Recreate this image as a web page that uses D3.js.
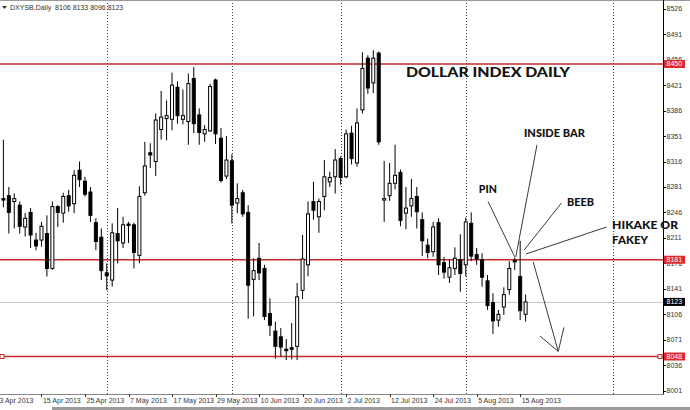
<!DOCTYPE html>
<html><head><meta charset="utf-8">
<script src="https://cdn.jsdelivr.net/npm/d3@7/dist/d3.min.js"></script>
<style>html,body{margin:0;padding:0;background:#fff}svg{display:block}</style>
</head><body><svg id="chart" width="690" height="410"></svg>
<script>
// ---------- data ----------
const dates = [
"2013-04-04","2013-04-05","2013-04-08","2013-04-09","2013-04-10","2013-04-11","2013-04-12","2013-04-15","2013-04-16","2013-04-17",
"2013-04-18","2013-04-19","2013-04-22","2013-04-23","2013-04-24","2013-04-25","2013-04-26","2013-04-29","2013-04-30","2013-05-01",
"2013-05-02","2013-05-03","2013-05-06","2013-05-07","2013-05-08","2013-05-09","2013-05-10","2013-05-13","2013-05-14","2013-05-15",
"2013-05-16","2013-05-17","2013-05-20","2013-05-21","2013-05-22","2013-05-23","2013-05-24","2013-05-27","2013-05-28","2013-05-29",
"2013-05-30","2013-05-31","2013-06-03","2013-06-04","2013-06-05","2013-06-06","2013-06-07","2013-06-10","2013-06-11","2013-06-12",
"2013-06-13","2013-06-14","2013-06-17","2013-06-18","2013-06-19","2013-06-20","2013-06-21","2013-06-24","2013-06-25","2013-06-26",
"2013-06-27","2013-06-28","2013-07-01","2013-07-02","2013-07-03","2013-07-04","2013-07-05","2013-07-08","2013-07-09","2013-07-10",
"2013-07-11","2013-07-12","2013-07-15","2013-07-16","2013-07-17","2013-07-18","2013-07-19","2013-07-22","2013-07-23","2013-07-24",
"2013-07-25","2013-07-26","2013-07-29","2013-07-30","2013-07-31","2013-08-01","2013-08-02","2013-08-05","2013-08-06","2013-08-07",
"2013-08-08","2013-08-09","2013-08-12","2013-08-13","2013-08-14","2013-08-15","2013-08-16"];

const open = [
8265,8269,8261,8256,8226,8246,8208,8208,8217,8169,
8254,8245,8269,8258,8304,8289,8274,8232,8212,8163,
8153,8217,8204,8230,8229,8187,8273,8328,8316,8360,
8375,8374,8418,8374,8371,8430,8380,8354,8358,8428,
8348,8296,8317,8259,8273,8246,8154,8183,8169,8107,
8083,8075,8058,8060,8062,8139,8174,8261,8240,8268,
8288,8295,8320,8295,8355,8314,8387,8458,8424,8465,
8263,8269,8286,8301,8245,8255,8268,8236,8201,8192,
8232,8177,8157,8169,8181,8174,8231,8188,8181,8152,
8122,8098,8116,8140,8180,8158,8106];
const high = [
8346,8281,8272,8261,8245,8252,8218,8233,8242,8261,
8256,8273,8277,8304,8316,8295,8281,8238,8224,8176,
8231,8252,8240,8233,8232,8282,8343,8341,8382,8413,
8400,8438,8426,8415,8437,8446,8389,8366,8423,8430,
8362,8351,8326,8286,8277,8256,8183,8204,8174,8128,
8096,8087,8072,8094,8149,8215,8261,8288,8265,8318,
8302,8333,8323,8360,8365,8389,8466,8462,8469,8467,
8317,8314,8339,8305,8281,8292,8281,8246,8210,8233,
8238,8185,8181,8198,8216,8239,8246,8197,8190,8160,
8135,8112,8143,8179,8184,8207,8133];
const low = [
8253,8217,8224,8217,8213,8197,8194,8199,8158,8167,
8226,8232,8247,8245,8281,8268,8233,8194,8153,8139,
8144,8176,8197,8204,8169,8176,8269,8307,8296,8346,
8345,8359,8368,8367,8339,8355,8339,8343,8357,8340,
8287,8292,8231,8245,8240,8100,8103,8153,8098,8076,
8045,8048,8043,8044,8043,8127,8158,8236,8218,8249,
8281,8272,8284,8293,8312,8309,8382,8409,8410,8339,
8233,8262,8278,8227,8223,8240,8224,8186,8183,8185,
8160,8155,8149,8160,8137,8158,8179,8174,8144,8112,
8079,8089,8105,8133,8167,8098,8096];
const close = [
8263,8246,8265,8227,8238,8215,8200,8227,8169,8254,
8246,8268,8255,8297,8291,8271,8242,8206,8166,8159,
8218,8207,8229,8228,8191,8268,8310,8325,8373,8377,
8379,8421,8379,8379,8423,8368,8356,8360,8419,8354,
8290,8318,8256,8265,8244,8146,8166,8163,8103,8091,
8062,8061,8056,8058,8130,8182,8244,8249,8261,8295,
8294,8318,8294,8354,8320,8369,8444,8417,8458,8343,
8265,8286,8297,8235,8252,8265,8247,8207,8191,8226,
8174,8164,8170,8183,8162,8233,8186,8182,8157,8118,
8097,8106,8133,8169,8178,8111,8123];

const yTickValues = [8526,8491,8456,8421,8386,8351,8316,8281,8246,8211,8176,8141,8106,8071,8036,8001];
const xTickLabels = ["3 Apr 2013","15 Apr 2013","25 Apr 2013","7 May 2013","17 May 2013","29 May 2013","10 Jun 2013","20 Jun 2013","2 Jul 2013","12 Jul 2013","24 Jul 2013","5 Aug 2013","15 Aug 2013"];
const xTickIndex = [-1,7,15,23,31,39,47,55,63,71,79,87,95];
const monthStartIndex = [19,42,62,85,112];
const levels = [8450,8181,8048];
const lastPrice = 8123;
const headerText = "DXYSB,Daily  8106 8133 8096 8123";

// annotations in (bar index, price)
const titleNote = {text:"DOLLAR INDEX DAILY", i:74.0, p:8432};
const notes = [
  {text:"INSIDE BAR", i:95.7, p:8349},
  {text:"PIN", i:87.4, p:8273},
  {text:"BEEB", i:103.6, p:8255},
  {text:"HIKAKE OR", i:111.9, p:8223},
  {text:"FAKEY", i:111.9, p:8202}
];
const noteLines = [
  [[89.1,8261],[94.0,8185]],
  [[98.1,8339],[94.2,8185]],
  [[102.6,8259],[95.7,8194]],
  [[110.9,8226],[96.1,8189]],
  [[97.4,8178],[102.0,8055],[103.05,8088]],
  [[98.65,8076],[102.0,8055]]
];

// ---------- drawing ----------
const W = 690, H = 410;
const plotRight = 663, plotBottom = 394;
const svg = d3.select("#chart");
const x = d3.scaleLinear().domain([0, 96]).range([3.4, 525.6]);
const y = d3.scaleLinear().domain([8001, 8526]).range([390.7, 8.7]);
const FONT = "'Liberation Sans', Arial, sans-serif";

svg.append("defs").append("clipPath").attr("id","clip")
  .append("rect").attr("x",0).attr("y",0).attr("width",plotRight).attr("height",plotBottom);
const plot = svg.append("g").attr("clip-path","url(#clip)");

// top border
svg.append("line").attr("x1",0).attr("x2",W).attr("y1",0.5).attr("y2",0.5).attr("stroke","#999");

// month grid (dotted)
plot.selectAll("line.grid").data(monthStartIndex).join("line")
  .attr("x1",d=>Math.round(x(d))+0.5).attr("x2",d=>Math.round(x(d))+0.5)
  .attr("y1",0).attr("y2",plotBottom)
  .attr("stroke","#444").attr("stroke-width",1).attr("stroke-dasharray","1,2");

// last price line
plot.append("line").attr("x1",0).attr("x2",plotRight)
  .attr("y1",Math.round(y(lastPrice))+0.5).attr("y2",Math.round(y(lastPrice))+0.5)
  .attr("stroke","#c8c8c8");

// level lines
plot.selectAll("line.level").data(levels).join("line")
  .attr("x1",0).attr("x2",plotRight)
  .attr("y1",d=>y(d)).attr("y2",d=>y(d))
  .attr("stroke","#c62828").attr("stroke-width",1.6);
[2, plotRight-3].forEach(px=>{
  plot.append("rect").attr("x",px-2).attr("y",y(levels[2])-2).attr("width",4).attr("height",4)
    .attr("fill","#fff").attr("stroke","#c62828").attr("stroke-width",1);
});

// candles
const idx = d3.range(open.length);
const cg = plot.append("g");
cg.selectAll("line.wick").data(idx).join("line")
  .attr("x1",i=>x(i)).attr("x2",i=>x(i))
  .attr("y1",i=>y(high[i])).attr("y2",i=>y(low[i]))
  .attr("stroke","#000").attr("stroke-width",1);
cg.selectAll("rect.body").data(idx).join("rect")
  .attr("x",i=>x(i)-1.5).attr("width",3)
  .attr("y",i=>y(Math.max(open[i],close[i])))
  .attr("height",i=>Math.max(1, Math.abs(y(open[i])-y(close[i]))))
  .attr("fill",i=>close[i]>=open[i]?"#fff":"#000")
  .attr("stroke","#000").attr("stroke-width",1);

// right axis
svg.append("line").attr("x1",plotRight+0.5).attr("x2",plotRight+0.5).attr("y1",0).attr("y2",plotBottom+1)
  .attr("stroke","#000");
const ya = svg.append("g");
ya.selectAll("line").data(yTickValues).join("line")
  .attr("x1",plotRight).attr("x2",plotRight+3)
  .attr("y1",d=>Math.round(y(d))+0.5).attr("y2",d=>Math.round(y(d))+0.5).attr("stroke","#000");
ya.selectAll("text").data(yTickValues).join("text")
  .attr("x",plotRight+3.5).attr("y",d=>y(d)+2.5)
  .attr("font-family",FONT).attr("font-size",7).attr("fill","#333").text(d=>d);

// price boxes
const boxes = levels.map(v=>({v, fill:"#e02a2a"})).concat([{v:lastPrice, fill:"#000"}]);
const bg = svg.append("g");
bg.selectAll("rect").data(boxes).join("rect")
  .attr("x",plotRight+1).attr("y",d=>y(d.v)-4).attr("width",21).attr("height",8).attr("fill",d=>d.fill);
bg.selectAll("text").data(boxes).join("text")
  .attr("x",plotRight+3.5).attr("y",d=>y(d.v)+2.5)
  .attr("font-family",FONT).attr("font-size",7).attr("fill","#fff").text(d=>d.v);

// annotations (drawn on top, not clipped)
const ann = svg.append("g");
const line = d3.line().x(d=>x(d[0])).y(d=>y(d[1]));
ann.selectAll("path").data(noteLines).join("path")
  .attr("d",line).attr("fill","none").attr("stroke","#3a3a3a").attr("stroke-width",1);
ann.append("text").attr("x",x(titleNote.i)).attr("y",y(titleNote.p))
  .attr("font-family","Lato, 'Open Sans', sans-serif").attr("font-weight",900)
  .attr("font-size",14).attr("textLength",164).attr("lengthAdjust","spacingAndGlyphs")
  .attr("fill","#111").text(titleNote.text);
const noteWidths = {"INSIDE BAR":61,"PIN":18,"BEEB":27,"HIKAKE OR":66,"FAKEY":36};
ann.selectAll("text.note").data(notes).join("text")
  .attr("x",d=>x(d.i)).attr("y",d=>y(d.p))
  .attr("font-family","Lato, 'Open Sans', sans-serif").attr("font-weight",900)
  .attr("font-size",10.5)
  .attr("textLength",d=>noteWidths[d.text]).attr("lengthAdjust","spacingAndGlyphs")
  .attr("fill","#111").text(d=>d.text);

// bottom axis
svg.append("line").attr("x1",0).attr("x2",plotRight+1).attr("y1",plotBottom+0.5).attr("y2",plotBottom+0.5).attr("stroke","#888");
const xa = svg.append("g");
xa.selectAll("line").data(xTickIndex).join("line")
  .attr("x1",i=>Math.round(x(i))+0.5).attr("x2",i=>Math.round(x(i))+0.5)
  .attr("y1",plotBottom).attr("y2",plotBottom+3).attr("stroke","#333");
xa.selectAll("text").data(xTickIndex).join("text")
  .attr("x",(i)=>x(i)+1.5).attr("y",plotBottom+9)
  .attr("font-family",FONT).attr("font-size",7).attr("fill","#333")
  .text((i,k)=>xTickLabels[k]);

// status bar strip
svg.append("rect").attr("x",52).attr("y",407).attr("width",W-52).attr("height",3).attr("fill","#9c9c9c");

// header
svg.append("path").attr("d","M2,6 L7,6 L4.5,9 Z").attr("fill","#333");
svg.append("text").attr("x",10).attr("y",10).attr("font-family",FONT).attr("font-size",7)
  .attr("fill","#333").attr("xml:space","preserve").text(headerText);
</script>
</body></html>
